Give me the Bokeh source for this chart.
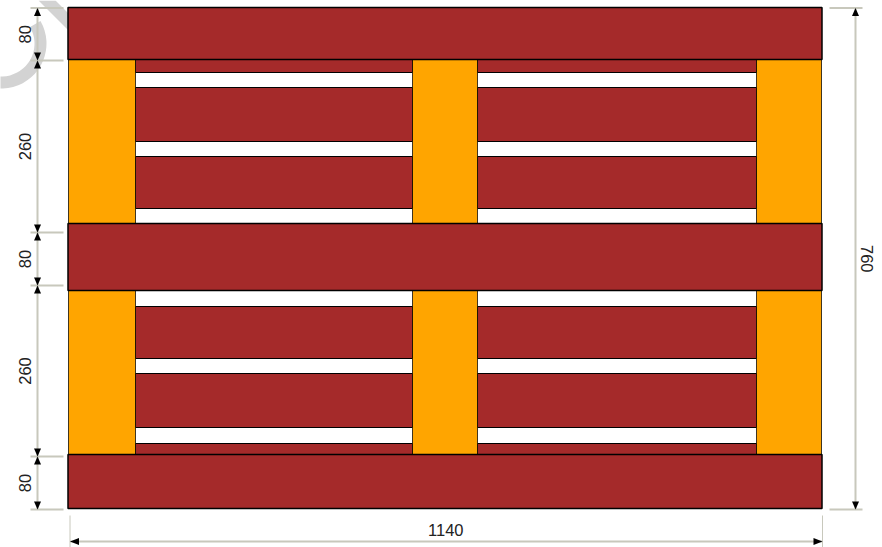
from math import pi
from bokeh.plotting import figure
from bokeh.embed import file_html
from bokeh.resources import INLINE
from bokeh.core.properties import value

# Drawing units are the picture's own scale: the sheet is not drawn to its labels' proportions.
deck_top = [7, 223, 454]
deck_bottom = [59, 290, 508]
deck_left = 67.5
deck_right = 821.5

block_left = [68, 412, 756]
block_right = [135, 477, 821]
block_top = [59, 290]
block_bottom = [223, 454]

bay_left = [135, 477]
bay_right = [412, 756]
slat_top = [59, 87, 156, 306, 373, 443]
slat_bottom = [72, 141, 208, 358, 427, 454]

dim_left_stops = [7.5, 60, 232, 285, 456, 509]
dim_left_labels = ["80", "260", "80", "260", "80"]
dim_left_x = 37
dim_left_label_x = 24.5

dim_right_stops = [7.5, 509]
dim_right_label = "760"
dim_right_x = 855
dim_right_label_x = 866.5

dim_bottom_stops = [69.5, 822]
dim_bottom_label = "1140"
dim_bottom_y = 541
dim_bottom_label_y = 529.5

mark_band_x = [38, 55, 80, 80]
mark_band_y = [0, 0, 25, 42]
mark_ring = dict(x=1, y=43, inner=33, outer=45)

BROWN = "#a52a2a"
ORANGE = "#ffa500"
DIM = "#c8c8bc"
MARK = "#d3d3d3"

p = figure(width=882, height=547, x_range=(0, 882), y_range=(547, 0),
           x_axis_type=None, y_axis_type=None, toolbar_location=None,
           output_backend="svg", min_border=0, outline_line_color=None,
           background_fill_color="white", border_fill_color="white")
p.grid.visible = False

# faint mark behind the drawing
p.patches([mark_band_x], [mark_band_y], fill_color=MARK, line_color=None)
p.annular_wedge(x=[mark_ring["x"]], y=[mark_ring["y"]],
                inner_radius=mark_ring["inner"], outer_radius=mark_ring["outer"],
                start_angle=pi / 6, end_angle=pi, direction="clock",
                fill_color=MARK, line_color=None)

# slats in the bays
lefts, rights, tops, bottoms = [], [], [], []
for l, r in zip(bay_left, bay_right):
    for t, b in zip(slat_top, slat_bottom):
        lefts.append(l); rights.append(r); tops.append(t); bottoms.append(b)
p.quad(left=lefts, right=rights, top=tops, bottom=bottoms,
       fill_color=BROWN, line_color="black", line_width=1)

# blocks
lefts, rights, tops, bottoms = [], [], [], []
for l, r in zip(block_left, block_right):
    for t, b in zip(block_top, block_bottom):
        lefts.append(l); rights.append(r); tops.append(t); bottoms.append(b)
p.quad(left=lefts, right=rights, top=tops, bottom=bottoms,
       fill_color=ORANGE, line_color="black", line_width=1, line_alpha=0.75)

# deck boards
p.quad(left=[deck_left] * 3, right=[deck_right] * 3, top=deck_top, bottom=deck_bottom,
       fill_color=BROWN, line_color="black", line_width=1.5)

# dimension lines
def vline(x, y0, y1, w=2):
    p.line([x, x], [y0, y1], line_color=DIM, line_width=w)

def hline(y, x0, x1, w=2):
    p.line([x0, x1], [y, y], line_color=DIM, line_width=w)

def arrow_v(x, tip, direction, length=8):
    p.patches([[x, x - 3.5, x + 3.5]], [[tip, tip + direction * length, tip + direction * length]],
              fill_color="black", line_color=None)

def arrow_h(y, tip, direction, length=9):
    p.patches([[tip, tip + direction * length, tip + direction * length]], [[y, y - 3.5, y + 3.5]],
              fill_color="black", line_color=None)

vline(dim_left_x, dim_left_stops[0], dim_left_stops[-1])
for s in dim_left_stops:
    hline(s, 30, 63)
for i, (a, b) in enumerate(zip(dim_left_stops[:-1], dim_left_stops[1:])):
    arrow_v(dim_left_x, a, 1)
    arrow_v(dim_left_x, b, -1)

vline(dim_right_x, dim_right_stops[0], dim_right_stops[1])
for s in dim_right_stops:
    hline(s, 829, 862)
arrow_v(dim_right_x, dim_right_stops[0], 1)
arrow_v(dim_right_x, dim_right_stops[1], -1)

hline(dim_bottom_y, dim_bottom_stops[0], dim_bottom_stops[1])
for s in dim_bottom_stops:
    vline(s, 515, 547, w=1)
arrow_h(dim_bottom_y, dim_bottom_stops[0], 1)
arrow_h(dim_bottom_y, dim_bottom_stops[1], -1)

# labels
mids = [(a + b) / 2 for a, b in zip(dim_left_stops[:-1], dim_left_stops[1:])]
common = dict(text_font=value("Liberation Sans"), text_font_size="16.5px", text_color="#222222",
              text_align="center", text_baseline="middle")
p.text(x=[dim_left_label_x] * len(mids), y=mids, text=dim_left_labels, angle=pi / 2, **common)
p.text(x=[dim_right_label_x], y=[(dim_right_stops[0] + dim_right_stops[1]) / 2],
       text=[dim_right_label], angle=-pi / 2, **common)
p.text(x=[(dim_bottom_stops[0] + dim_bottom_stops[1]) / 2 - 0.5], y=[dim_bottom_label_y],
       text=[dim_bottom_label], **common)

open("out.html", "w").write(file_html(p, INLINE))
